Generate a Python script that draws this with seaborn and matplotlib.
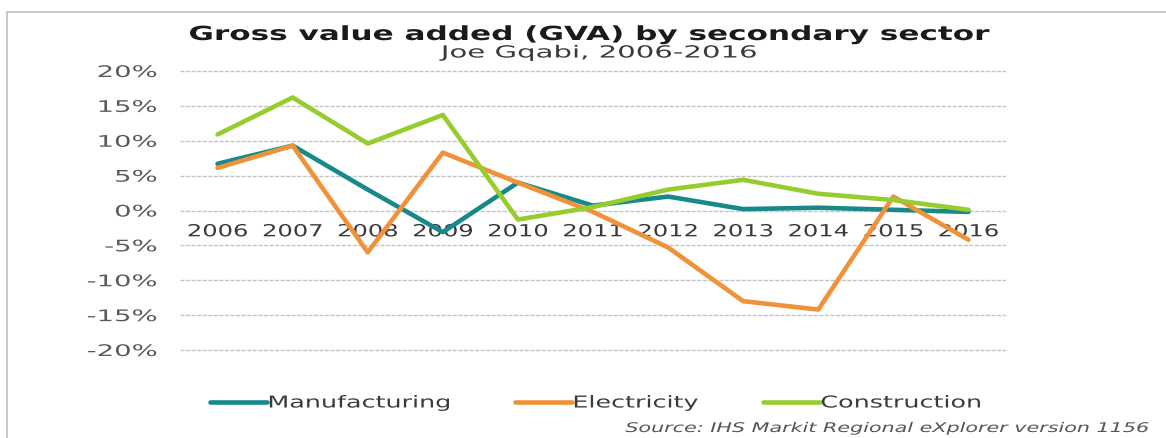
import matplotlib
matplotlib.use("Agg")
import matplotlib.pyplot as plt
import matplotlib.patches as mpatches
from matplotlib.patheffects import AbstractPathEffect
from matplotlib.transforms import Affine2D
from matplotlib.lines import Line2D
import seaborn as sns
import pandas as pd
from matplotlib.ticker import FuncFormatter

years = [2006, 2007, 2008, 2009, 2010, 2011, 2012, 2013, 2014, 2015, 2016]
manufacturing = [6.7, 9.3, 3.0, -3.1, 4.0, 0.7, 2.0, 0.2, 0.4, 0.1, -0.2]
electricity = [6.1, 9.3, -6.0, 8.3, 4.0, -0.2, -5.3, -13.0, -14.2, 2.0, -4.2]
construction = [10.9, 16.2, 9.6, 13.7, -1.3, 0.5, 3.0, 4.4, 2.4, 1.5, 0.1]
sectors = ["Manufacturing", "Electricity", "Construction"]
colors = ["#17898a", "#f0923a", "#97cc2e"]
y_ticks = [-20, -15, -10, -5, 0, 5, 10, 15, 20]

W, H = 1166, 439


class HStretch(AbstractPathEffect):
    """Stretch text glyphs horizontally about a left/center/right anchor."""

    def __init__(self, sx, anchor="left"):
        super().__init__()
        self.sx = sx
        self.anchor = anchor

    def draw_path(self, renderer, gc, tpath, affine, rgbFace=None):
        ext = tpath.get_extents()
        if self.anchor == "center":
            a = (ext.x0 + ext.x1) / 2
        elif self.anchor == "right":
            a = ext.x1
        else:
            a = 0.0
        t = Affine2D().translate(-a, 0).scale(self.sx, 1).translate(a, 0) + affine
        renderer.draw_path(gc, tpath, t, rgbFace)


df = pd.concat([
    pd.DataFrame({"Year": years, "Value": manufacturing, "Sector": sectors[0]}),
    pd.DataFrame({"Year": years, "Value": electricity, "Sector": sectors[1]}),
    pd.DataFrame({"Year": years, "Value": construction, "Sector": sectors[2]}),
])

sns.set_theme(style="white")
plt.rcParams["font.family"] = ["DejaVu Sans"]

fig = plt.figure(figsize=(W / 100, H / 100), dpi=100)
ymin, ymax = -20.4, 20.4
ppu = (351 - 72) / 40.0
top_px = 72 - 0.4 * ppu
bot_px = 351 + 0.4 * ppu
ax = fig.add_axes([180 / W, 1 - bot_px / H, (1006 - 180) / W, (bot_px - top_px) / H])

# outer frame
fig.patches.append(mpatches.Rectangle((7 / W, -0.05), 1.1, 1 - 13 / H + 0.05,
                                      transform=fig.transFigure, fill=False,
                                      edgecolor="#bdbdbd", linewidth=1.2, zorder=0))

pal = dict(zip(sectors, colors))
sns.lineplot(data=df, x="Year", y="Value", hue="Sector", palette=pal,
             linewidth=3.3, ax=ax, legend=False)
for ln in ax.lines:
    ln.set_zorder(3)

ax.set_xlim(2005.5, 2016.5)
ax.set_ylim(ymin, ymax)
ax.set_yticks(y_ticks)
ax.yaxis.set_major_formatter(FuncFormatter(lambda v, p: f"{int(v)}%"))
ax.set_xticks(years)
ax.set_xticklabels([str(y) for y in years])
ax.grid(axis="y", color="#c4c4c4", linewidth=1.0, linestyle=(0, (3, 1)))
ax.grid(axis="x", visible=False)
ax.set_axisbelow(True)
for s in ["top", "right", "left"]:
    ax.spines[s].set_visible(False)
ax.spines["bottom"].set_position(("data", 0))
ax.spines["bottom"].set_visible(False)
ax.tick_params(axis="x", length=0, pad=8.5, labelsize=12, labelcolor="#3a3a3a")
ax.tick_params(axis="y", length=0, pad=16.5, labelsize=11.5, labelcolor="#5a5a5a")
ax.set_xlabel("")
ax.set_ylabel("")
for lbl in ax.get_xticklabels():
    lbl.set_path_effects([HStretch(1.45, "center")])
for lbl in ax.get_yticklabels():
    lbl.set_path_effects([HStretch(1.72, "right")])

# legend: one entry per sector, placed like the reference
leg_x = [210, 515, 763]
for name, col, x0 in zip(sectors, colors, leg_x):
    h = Line2D([], [], color=col, linewidth=3.3)
    lg = fig.legend([h], [name], loc="center left", bbox_to_anchor=(x0 / W, 1 - 404 / H),
                    frameon=False, fontsize=11.8, handlelength=3.5, handletextpad=0.0,
                    borderpad=0.0, borderaxespad=0.0, labelcolor="#3a3a3a")
    for t in lg.get_texts():
        t.set_path_effects([HStretch(1.55, "left")])

t1 = fig.text(590 / W, 1 - 41 / H, "Gross value added (GVA) by secondary sector",
              ha="center", va="baseline", fontsize=14.0, fontweight="bold", color="#1a1a1a")
t1.set_path_effects([HStretch(1.6, "center")])
t2 = fig.text(598 / W, 1 - 58.5 / H, "Joe Gqabi, 2006-2016",
              ha="center", va="baseline", fontsize=12, color="#3a3a3a")
t2.set_path_effects([HStretch(1.75, "center")])
t3 = fig.text(1150 / W, 1 - 433 / H, "Source: IHS Markit Regional eXplorer version 1156",
              ha="right", va="baseline", fontsize=9.6, style="italic", color="#555555")
t3.set_path_effects([HStretch(1.55, "right")])

fig.savefig("out.png", dpi=100)
